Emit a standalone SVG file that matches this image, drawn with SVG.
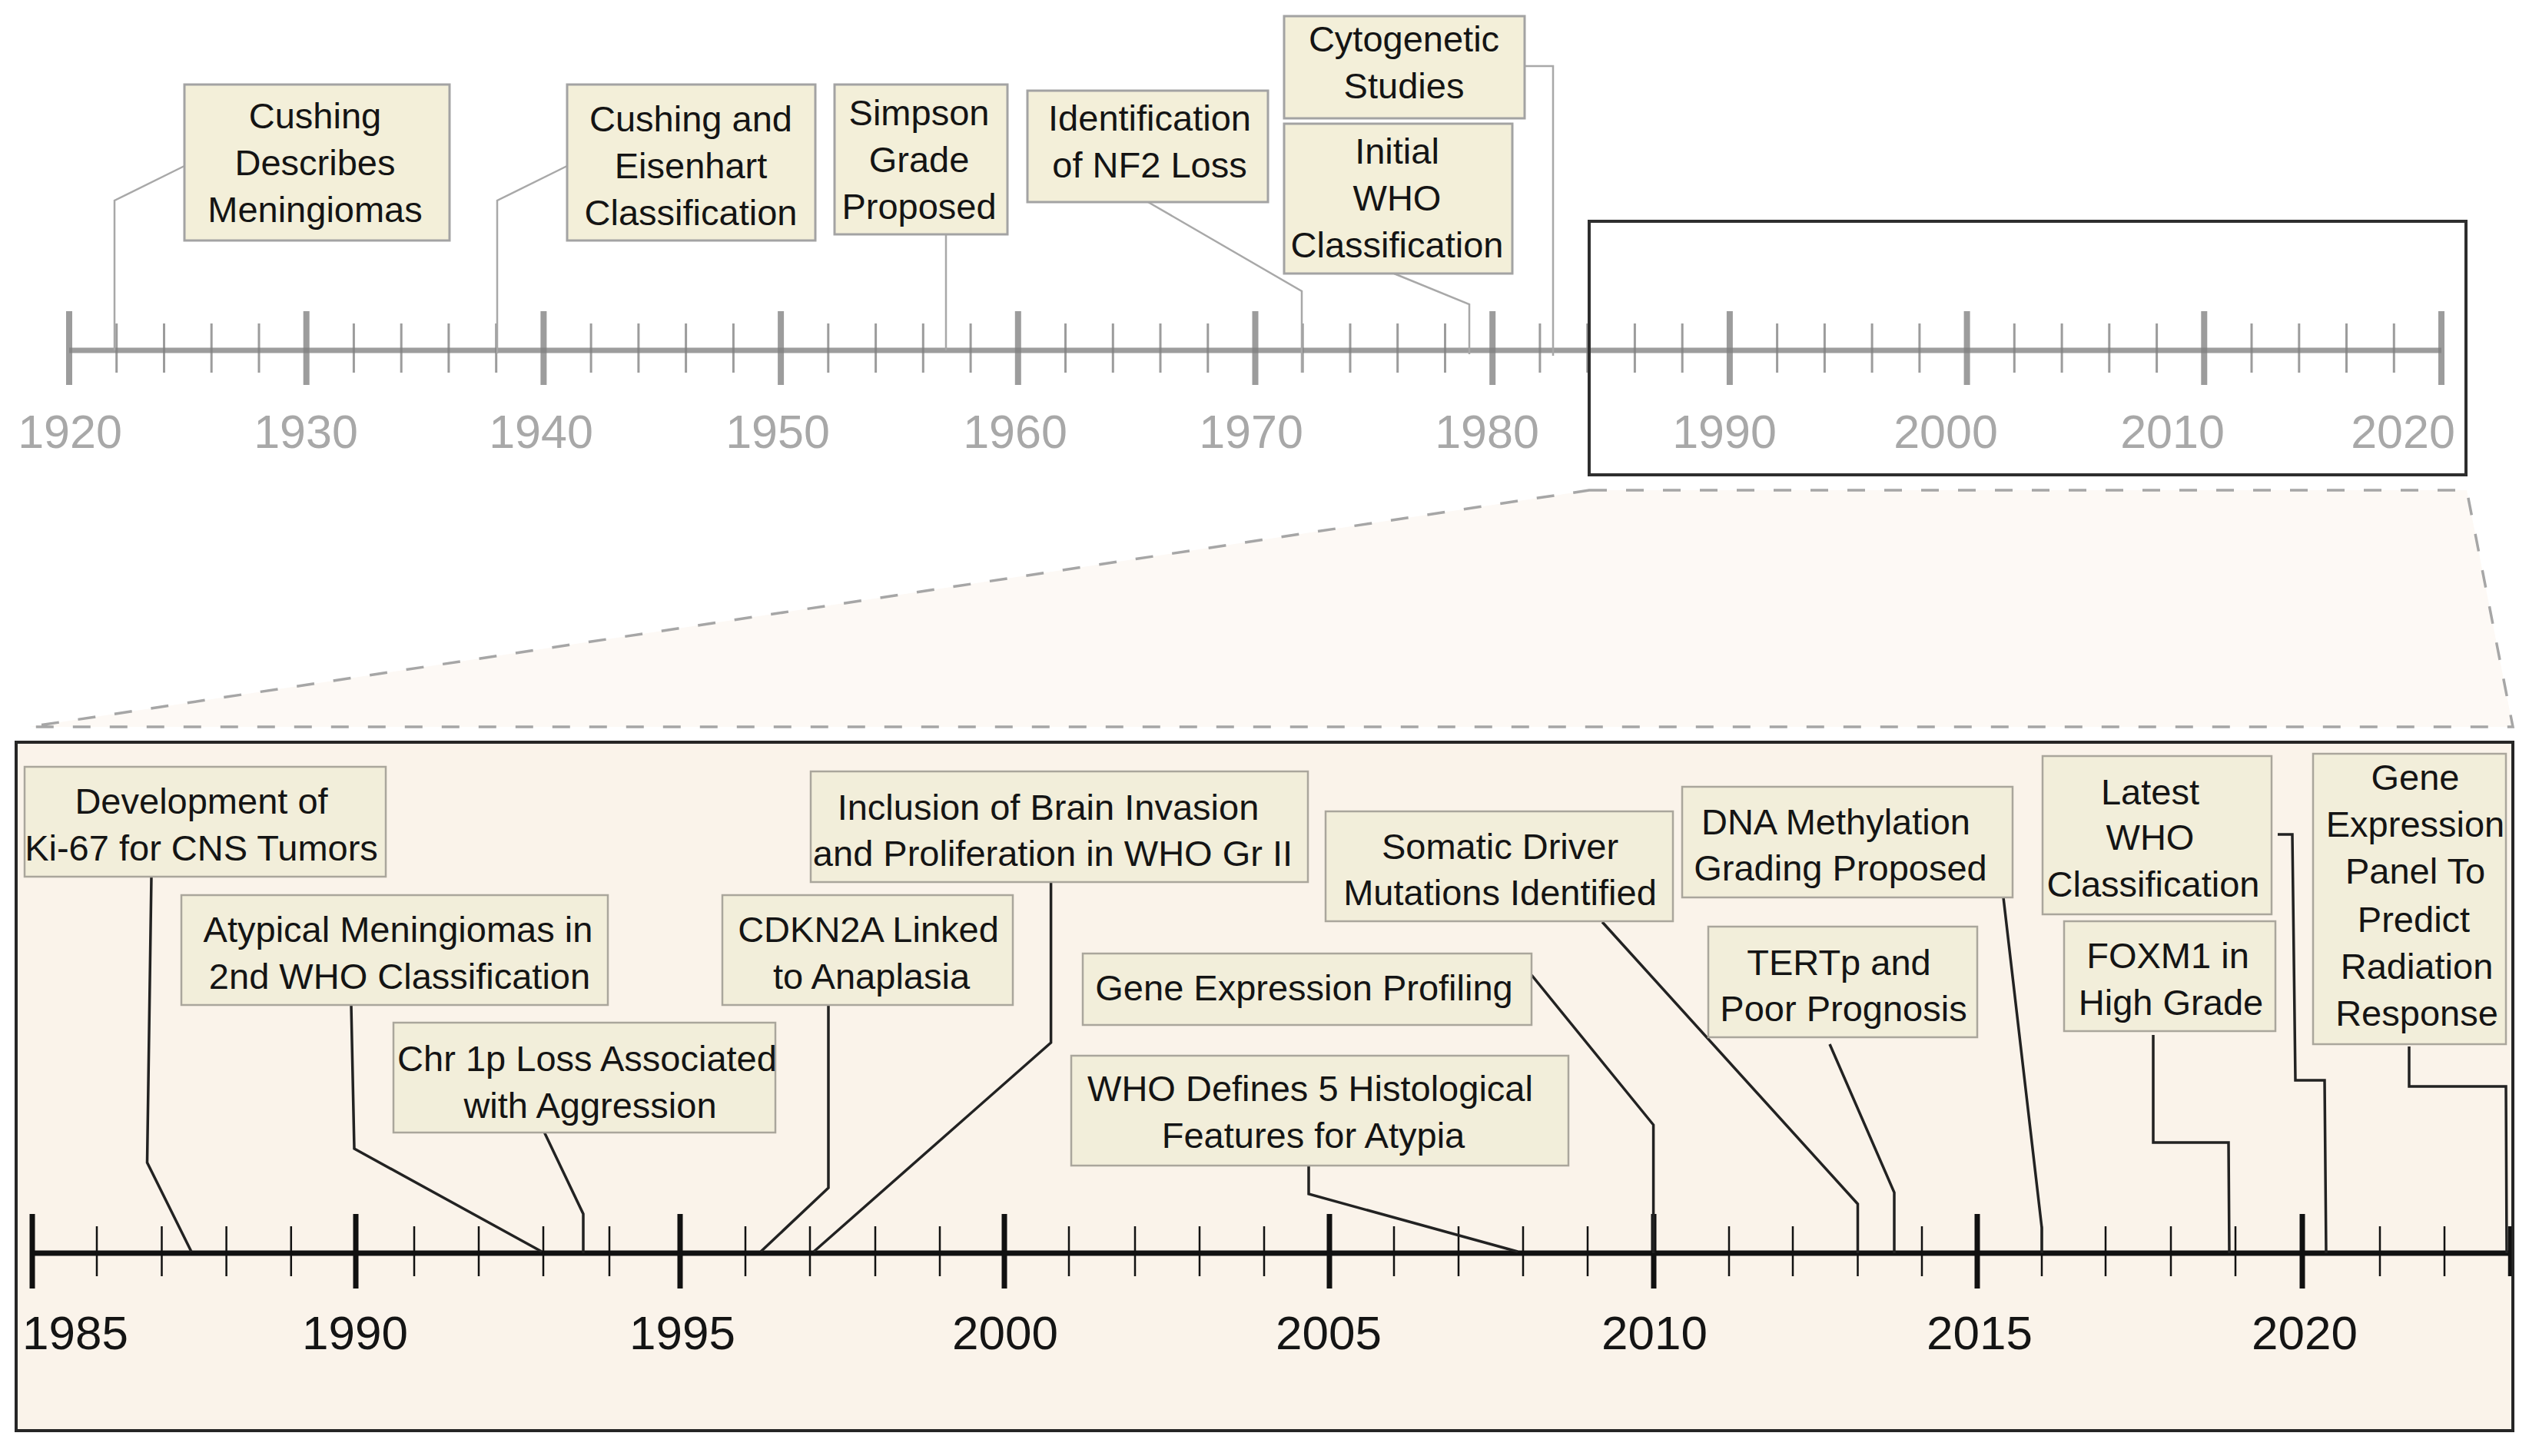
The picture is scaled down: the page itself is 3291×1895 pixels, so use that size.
<svg xmlns="http://www.w3.org/2000/svg" width="3291" height="1895" viewBox="0 0 3291 1895">
<style>
.t{font-family:"Liberation Sans",Arial,sans-serif;font-size:47px;fill:#141414;text-anchor:middle}
.uy{font-family:"Liberation Sans",Arial,sans-serif;font-size:61px;fill:#a8a8a8;text-anchor:middle}
.ly{font-family:"Liberation Sans",Arial,sans-serif;font-size:62px;fill:#141414;text-anchor:middle}
.ub{fill:#f3efd9;stroke:#a3a3a3;stroke-width:3}
.lb{fill:#f2eeda;stroke:#aaa69c;stroke-width:2.5}
.uc{fill:none;stroke:#a8a8a8;stroke-width:2.5}
.lc{fill:none;stroke:#222;stroke-width:3.5;stroke-linejoin:miter}
.ua{fill:none;stroke:#808080;stroke-opacity:0.78}
.la{fill:none;stroke:#111}
</style>
<rect width="3291" height="1895" fill="#ffffff"/>
<!-- zoom trapezoid -->
<polygon points="2068,638 3210,638 3270,946 38,946" fill="#fdf9f5" stroke="#a6a6a6" stroke-width="3.5" stroke-dasharray="23 25"/>
<!-- lower frame -->
<rect x="21" y="966" width="3249" height="896" fill="#faf3ea" stroke="#262626" stroke-width="4"/>

<!-- upper axis -->
<g id="upper-axis">
<line class="ua" x1="90" y1="456" x2="3177" y2="456" stroke-width="7"/>
<path class="ua" stroke-width="8" d="M90 405V501M398.7 405V501M707.4 405V501M1016.1 405V501M1324.8 405V501M1633.5 405V501M1942.2 405V501M2250.9 405V501M2559.6 405V501M2868.3 405V501M3177 405V501"/>
<path class="ua" stroke-width="3" d="M151.7 421V485M213.5 421V485M275.2 421V485M337 421V485M460.4 421V485M522.2 421V485M583.9 421V485M645.7 421V485M769.1 421V485M830.9 421V485M892.6 421V485M954.4 421V485M1077.8 421V485M1139.6 421V485M1201.3 421V485M1263.1 421V485M1386.5 421V485M1448.3 421V485M1510 421V485M1571.8 421V485M1695.2 421V485M1757 421V485M1818.7 421V485M1880.5 421V485M2003.9 421V485M2065.7 421V485M2127.4 421V485M2189.2 421V485M2312.6 421V485M2374.4 421V485M2436.1 421V485M2497.9 421V485M2621.3 421V485M2683.1 421V485M2744.8 421V485M2806.6 421V485M2930 421V485M2991.8 421V485M3053.5 421V485M3115.3 421V485"/>
<text class="uy" x="91" y="583">1920</text>
<text class="uy" x="398" y="583">1930</text>
<text class="uy" x="704" y="583">1940</text>
<text class="uy" x="1012" y="583">1950</text>
<text class="uy" x="1321" y="583">1960</text>
<text class="uy" x="1628" y="583">1970</text>
<text class="uy" x="1935" y="583">1980</text>
<text class="uy" x="2244" y="583">1990</text>
<text class="uy" x="2532" y="583">2000</text>
<text class="uy" x="2827" y="583">2010</text>
<text class="uy" x="3127" y="583">2020</text>
</g>
<!-- selection box -->
<rect x="2068" y="288" width="1141" height="330" fill="none" stroke="#2e2e2e" stroke-width="4"/>

<!-- lower axis -->
<g id="lower-axis">
<line class="la" x1="42" y1="1631" x2="3266" y2="1631" stroke-width="7"/>
<path class="la" stroke-width="7" d="M42 1580V1677M463 1580V1677M885 1580V1677M1307 1580V1677M1730 1580V1677M2152 1580V1677M2573 1580V1677M2996 1580V1677"/>
<path class="la" stroke-width="2.5" d="M126 1596V1661M210.5 1596V1661M294.6 1596V1661M378.8 1596V1661M539 1596V1661M623 1596V1661M707 1596V1661M793 1596V1661M970 1596V1661M1054 1596V1661M1139 1596V1661M1223 1596V1661M1391 1596V1661M1477 1596V1661M1561 1596V1661M1645 1596V1661M1814 1596V1661M1898 1596V1661M1982 1596V1661M2066 1596V1661M2250 1596V1661M2333 1596V1661M2417.5 1596V1661M2501 1596V1661M2657 1596V1661M2740 1596V1661M2825 1596V1661M2909 1596V1661M3097 1596V1661M3181 1596V1661"/>
<path class="la" stroke-width="4.5" d="M3266 1596V1661"/>
<text class="ly" x="98" y="1756">1985</text>
<text class="ly" x="462" y="1756">1990</text>
<text class="ly" x="888" y="1756">1995</text>
<text class="ly" x="1308" y="1756">2000</text>
<text class="ly" x="1729" y="1756">2005</text>
<text class="ly" x="2153" y="1756">2010</text>
<text class="ly" x="2576" y="1756">2015</text>
<text class="ly" x="2999" y="1756">2020</text>
</g>

<!-- connectors -->
<g id="connectors">
<polyline class="uc" points="240,216 149,261 149,456"/>
<polyline class="uc" points="738,216 647,261 647,460"/>
<polyline class="uc" points="1231,305 1231,456"/>
<polyline class="uc" points="1494,263 1694,379 1694,485"/>
<polyline class="uc" points="1984,86 2021,86 2021,463"/>
<polyline class="uc" points="1814,356 1912,396 1912,461"/>

<polyline class="lc" points="197,1141 191.5,1513 249,1629"/>
<polyline class="lc" points="457,1308 461,1495 705,1629"/>
<polyline class="lc" points="708.5,1474 759,1580 759,1631"/>
<polyline class="lc" points="1078,1308 1078,1546 990,1629"/>
<polyline class="lc" points="1367.6,1148 1367.6,1357 1059,1629"/>
<polyline class="lc" points="1993,1269 2151.6,1464 2151.6,1631"/>
<polyline class="lc" points="1703,1517 1703,1554 1975,1629"/>
<polyline class="lc" points="2085,1200 2417.5,1567 2417.5,1631"/>
<polyline class="lc" points="2607,1168 2657,1598 2657,1631"/>
<polyline class="lc" points="2381,1359 2465,1552 2465,1631"/>
<polyline class="lc" points="2964,1086 2983,1086 2987,1406 3025,1406 3027,1631"/>
<polyline class="lc" points="2802,1347 2802,1487 2900,1487 2901,1631"/>
<polyline class="lc" points="3135,1362 3135,1414 3261,1414 3262,1631"/>
</g>

<!-- upper nodes -->
<g id="u-cushing">
<rect class="ub" x="240" y="110" width="345" height="203"/>
<text class="t" x="410" y="167">Cushing</text>
<text class="t" x="410" y="228">Describes</text>
<text class="t" x="410" y="289">Meningiomas</text>
</g>
<g id="u-eisenhart">
<rect class="ub" x="738" y="110" width="323" height="203"/>
<text class="t" x="899" y="171">Cushing and</text>
<text class="t" x="899" y="232">Eisenhart</text>
<text class="t" x="899" y="293">Classification</text>
</g>
<g id="u-simpson">
<rect class="ub" x="1086" y="110" width="225" height="195"/>
<text class="t" x="1196" y="163">Simpson</text>
<text class="t" x="1196" y="224">Grade</text>
<text class="t" x="1196" y="285">Proposed</text>
</g>
<g id="u-nf2">
<rect class="ub" x="1337" y="118" width="313" height="145"/>
<text class="t" x="1496" y="170">Identification</text>
<text class="t" x="1496" y="231">of NF2 Loss</text>
</g>
<g id="u-cyto">
<rect class="ub" x="1671" y="21" width="313" height="133"/>
<text class="t" x="1827" y="67">Cytogenetic</text>
<text class="t" x="1827" y="128">Studies</text>
</g>
<g id="u-who">
<rect class="ub" x="1671" y="161" width="297" height="195"/>
<text class="t" x="1818" y="213">Initial</text>
<text class="t" x="1818" y="274">WHO</text>
<text class="t" x="1818" y="335">Classification</text>
</g>

<!-- lower nodes -->
<g id="l-ki67">
<rect class="lb" x="32" y="998" width="470" height="143"/>
<text class="t" x="262" y="1059">Development of</text>
<text class="t" x="262" y="1120">Ki-67 for CNS Tumors</text>
</g>
<g id="l-atypical">
<rect class="lb" x="236" y="1165" width="555" height="143"/>
<text class="t" x="518" y="1226">Atypical Meningiomas in</text>
<text class="t" x="520" y="1287">2nd WHO Classification</text>
</g>
<g id="l-chr1p">
<rect class="lb" x="512" y="1331" width="497" height="143"/>
<text class="t" x="764" y="1394">Chr 1p Loss Associated</text>
<text class="t" x="768" y="1455">with Aggression</text>
</g>
<g id="l-cdkn2a">
<rect class="lb" x="940" y="1165" width="378" height="143"/>
<text class="t" x="1130" y="1226">CDKN2A Linked</text>
<text class="t" x="1134" y="1287">to Anaplasia</text>
</g>
<g id="l-inclusion">
<rect class="lb" x="1055" y="1004" width="647" height="144"/>
<text class="t" x="1364" y="1067">Inclusion of Brain Invasion</text>
<text class="t" x="1370" y="1127">and Proliferation in WHO Gr II</text>
</g>
<g id="l-gep">
<rect class="lb" x="1409" y="1241" width="584" height="93"/>
<text class="t" x="1697" y="1302">Gene Expression Profiling</text>
</g>
<g id="l-whodef">
<rect class="lb" x="1394" y="1374" width="647" height="143"/>
<text class="t" x="1705" y="1433">WHO Defines 5 Histological</text>
<text class="t" x="1709" y="1494">Features for Atypia</text>
</g>
<g id="l-somatic">
<rect class="lb" x="1725" y="1056" width="452" height="143"/>
<text class="t" x="1952" y="1118">Somatic Driver</text>
<text class="t" x="1952" y="1178">Mutations Identified</text>
</g>
<g id="l-dna">
<rect class="lb" x="2189" y="1024" width="430" height="144"/>
<text class="t" x="2389" y="1086">DNA Methylation</text>
<text class="t" x="2395" y="1146">Grading Proposed</text>
</g>
<g id="l-tertp">
<rect class="lb" x="2223" y="1206" width="350" height="144"/>
<text class="t" x="2393" y="1269">TERTp and</text>
<text class="t" x="2399" y="1329">Poor Prognosis</text>
</g>
<g id="l-latest">
<rect class="lb" x="2658" y="984" width="298" height="206"/>
<text class="t" x="2798" y="1047">Latest</text>
<text class="t" x="2798" y="1106">WHO</text>
<text class="t" x="2802" y="1167">Classification</text>
</g>
<g id="l-foxm1">
<rect class="lb" x="2686" y="1199" width="275" height="143"/>
<text class="t" x="2821" y="1260">FOXM1 in</text>
<text class="t" x="2825" y="1321">High Grade</text>
</g>
<g id="l-panel">
<rect class="lb" x="3010" y="981" width="251" height="378"/>
<text class="t" x="3143" y="1028">Gene</text>
<text class="t" x="3143" y="1089">Expression</text>
<text class="t" x="3143" y="1150">Panel To</text>
<text class="t" x="3141" y="1213">Predict</text>
<text class="t" x="3145" y="1274">Radiation</text>
<text class="t" x="3145" y="1335">Response</text>
</g>
</svg>
